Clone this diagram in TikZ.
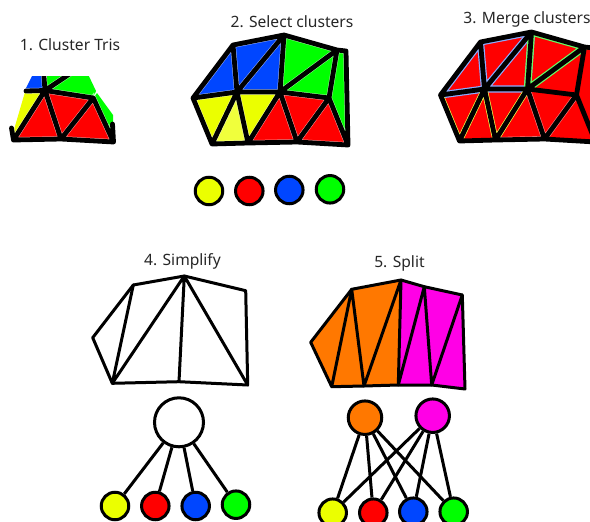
\documentclass[tikz,border=0pt]{standalone}
\usepackage{fontspec}
\setmainfont{Noto Sans}
\definecolor{cyel}{RGB}{235,255,0}
\definecolor{cpal}{RGB}{240,255,60}
\definecolor{cred}{RGB}{255,0,0}
\definecolor{cblu}{RGB}{0,70,255}
\definecolor{cgrn}{RGB}{0,255,0}
\definecolor{corg}{RGB}{255,120,0}
\definecolor{cmag}{RGB}{255,0,230}
\tikzset{
  ttl/.style  = {font=\fontsize{15.6}{18}\selectfont, text=black!85, inner sep=0pt},
  leaf/.style = {draw, circle, line width=3pt, minimum size=27.5pt, inner sep=0pt},
  par/.style  = {draw, circle, line width=3pt, minimum size=33.5pt, inner sep=0pt},
  big/.style  = {draw, circle, fill=white, line width=3pt, minimum size=49pt, inner sep=0pt},
  lnk/.style  = {line width=3pt},
  edg/.style  = {line width=4.8pt, line join=round, line cap=round},
  edgw/.style = {edg, preaction={draw=white, draw opacity=.6, line width=5.8pt}},
  thn/.style  = {line width=3pt, line join=round, line cap=round},
}
\begin{document}
\begin{tikzpicture}[x=1pt, y=-1pt]
    \useasboundingbox (0,0) rectangle (590,522);
    \clip (0,0) rectangle (590,522);
    % titles
    \node[ttl] (t1) at (70,45) {1. Cluster Tris};
    \node[ttl] (t2) at (292,22) {2. Select clusters};
    \node[ttl] (t3) at (527,19) {3. Merge clusters};
    \node[ttl] (t4) at (182.5,261.5) {4. Simplify};
    \node[ttl] (t5) at (399.5,263.5) {5. Split};
    % mesh 1
    \begin{scope}
      \clip (0,76) rectangle (130,150);
      \coordinate (ai) at (13.5,140);
      \coordinate (af) at (45,90.5);
      \coordinate (aj) at (61,139);
      \coordinate (ah) at (93.3,98);
      \coordinate (al) at (113.5,142);
      \fill[cgrn] (af) -- (48,70) -- (86,70) -- (96,91) -- (ah) -- cycle;
      \fill[cgrn] (ah) -- (97,93) -- (113,115) -- (al) -- cycle;
      \fill[cblu] (25,90) -- (35,70) -- (45,70) -- (af) -- cycle;
      \fill[cyel] (25,92) -- (af) -- (ai) -- (13,133) -- cycle;
      \fill[cred] (af) -- (ai) -- (aj) -- cycle;
      \fill[cred] (af) -- (ah) -- (aj) -- cycle;
      \fill[cred] (ah) -- (aj) -- (al) -- cycle;
      \draw[edgw] (ai) -- (aj) -- (al) -- (ah) -- (aj) -- (af) -- (ai)
        (af) -- (ah) (af) -- (26,91) (af) -- (43.5,70) (af) -- (71,73)
        (ai) -- (11.5,128) (al) -- (112.5,124);
    \end{scope}
    % mesh 2
    \coordinate (ba) at (193,98);
    \coordinate (bb) at (233,45);
    \coordinate (bc) at (284,35);
    \coordinate (bd) at (346,51);
    \coordinate (be) at (337,50);
    \coordinate (bf) at (237,92);
    \coordinate (bg) at (280,92);
    \coordinate (bh) at (329,98);
    \coordinate (bi) at (212,144);
    \coordinate (bj) at (248,143);
    \coordinate (bk) at (297,142);
    \coordinate (bl) at (348,145);
    \fill[cblu] (ba) -- (bb) -- (bc) -- (bg) -- (bf) -- cycle;
    \fill[cgrn] (bc) -- (be) -- (bd) -- (bl) -- (bh) -- (bg) -- cycle;
    \fill[cyel] (ba) -- (bf) -- (bg) -- (bj) -- (bi) -- cycle;
    \fill[cpal] (bf) -- (bj) -- (bi) -- cycle;
    \fill[cred] (bg) -- (bh) -- (bl) -- (bk) -- (bj) -- cycle;
    \draw[edgw] (ba) -- (bb) -- (bc) -- (be) -- (bd) -- (bl) -- (bk) -- (bj) -- (bi) -- cycle
      (ba) -- (bf) -- (bg) -- (bh) -- (bl)
      (bb) -- (bf) -- (bc) -- (bg) -- (be) -- (bh) -- (bk) -- (bg) -- (bj) -- (bf) -- (bi);
    % mesh 3
    \begin{scope}[shift={(247.5,-3)}]
      \coordinate (ca) at (193,98);
      \coordinate (cb) at (233,45);
      \coordinate (cc) at (284,35);
      \coordinate (cd) at (346,51);
      \coordinate (ce) at (337,50);
      \coordinate (cf) at (237,92);
      \coordinate (cg) at (280,92);
      \coordinate (ch) at (329,98);
      \coordinate (ci) at (212,144);
      \coordinate (cj) at (248,143);
      \coordinate (ck) at (297,142);
      \coordinate (cl) at (348,145);
    \end{scope}
    \fill[cred] (ca) -- (cb) -- (cc) -- (ce) -- (cd) -- (cl) -- (ck) -- (cj) -- (ci) -- cycle;
    \begin{scope}
      \clip (ca) -- (cb) -- (cc) -- (ce) -- (cd) -- (cl) -- (ck) -- (cj) -- (ci) -- cycle;
      \draw[cblu!45!white, line width=7.2pt, line join=round] (ca) -- (cb) -- (cf) -- cycle (cb) -- (cc) -- (cf) (cc) -- (cg) -- (cf);
      \draw[cgrn!60!white, line width=7.2pt, line join=round] (cc) -- (ce) -- (cg) -- cycle;
      \draw[cyel!70!white, line width=6.2pt, line join=round] (ca) -- (ci) (cf) -- (ci) (cf) -- (cj) (cg) -- (cj);
      \draw[white, opacity=.5, line width=6pt] (cg) -- (ck) -- (ch) (cj) -- (ck);
    \end{scope}
    \draw[edg] (ca) -- (cb) -- (cc) -- (ce) -- (cd) -- (cl) -- (ck) -- (cj) -- (ci) -- cycle
      (ca) -- (cf) -- (cg) -- (ch) -- (cl)
      (cb) -- (cf) -- (cc) -- (cg) -- (ce) -- (ch) -- (ck) -- (cg) -- (cj) -- (cf) -- (ci);
    % circles of mesh 2
    \node[leaf, fill=cyel] (sy) at (209,191) {};
    \node[leaf, fill=cred] (sr) at (249.3,191) {};
    \node[leaf, fill=cblu] (sb) at (289.3,190) {};
    \node[leaf, fill=cgrn] (sg) at (330,189.3) {};
    % mesh 4
    \coordinate (da) at (92.7,337.7);
    \coordinate (db) at (133.3,285);
    \coordinate (dc) at (184.3,276);
    \coordinate (dd) at (245.7,290.7);
    \coordinate (di) at (112.3,383.3);
    \coordinate (dm) at (179,381.7);
    \coordinate (dl) at (247.7,385);
    \draw[thn] (da) -- (db) -- (dc) -- (dd) -- (dl) -- (dm) -- (di) -- cycle;
    \draw[thn] (db) -- (di) -- (dc) -- (dm) (dc) -- (dl);
    \node[big] (root) at (179,422.3) {};
    \node[leaf, fill=cyel] (ly) at (115,506) {};
    \node[leaf, fill=cred] (lr) at (155.3,506) {};
    \node[leaf, fill=cblu] (lb) at (195.7,506) {};
    \node[leaf, fill=cgrn] (lg) at (236,504.7) {};
    \foreach \n in {ly,lr,lb,lg}
      \draw[lnk] (root) -- (\n);
    % mesh 5
    \coordinate (ea) at (310.7,342.3);
    \coordinate (eb) at (351.7,289.3);
    \coordinate (ec) at (401,280);
    \coordinate (en) at (424.3,286.7);
    \coordinate (ed) at (462.3,295);
    \coordinate (ei) at (331.7,386.7);
    \coordinate (ej) at (364,386);
    \coordinate (em) at (398.3,385);
    \coordinate (ek) at (431.7,385);
    \coordinate (el) at (465,389);
    \fill[corg] (ea) -- (eb) -- (ec) -- (em) -- (ej) -- (ei) -- cycle;
    \fill[cmag] (ec) -- (en) -- (ed) -- (el) -- (ek) -- (em) -- cycle;
    \draw[thn] (ea) -- (eb) -- (ec) -- (en) -- (ed) -- (el) -- (ek) -- (em) -- (ej) -- (ei) -- cycle;
    \draw[thn] (ei) -- (eb) -- (ej) -- (ec) -- (em) -- (en) -- (ek) -- (ed);
    \node[par, fill=corg] (po) at (365,417.7) {};
    \node[par, fill=cmag] (pm) at (432.7,415.7) {};
    \node[leaf, fill=cyel] (my) at (332.7,512.7) {};
    \node[leaf, fill=cred] (mr) at (373.3,512.7) {};
    \node[leaf, fill=cblu] (mb) at (413.3,511.7) {};
    \node[leaf, fill=cgrn] (mg) at (453.7,511.7) {};
    \foreach \n in {my,mr,mb,mg} {
      \draw[lnk] (po) -- (\n);
      \draw[lnk] (pm) -- (\n);
    }
\end{tikzpicture}
\end{document}
